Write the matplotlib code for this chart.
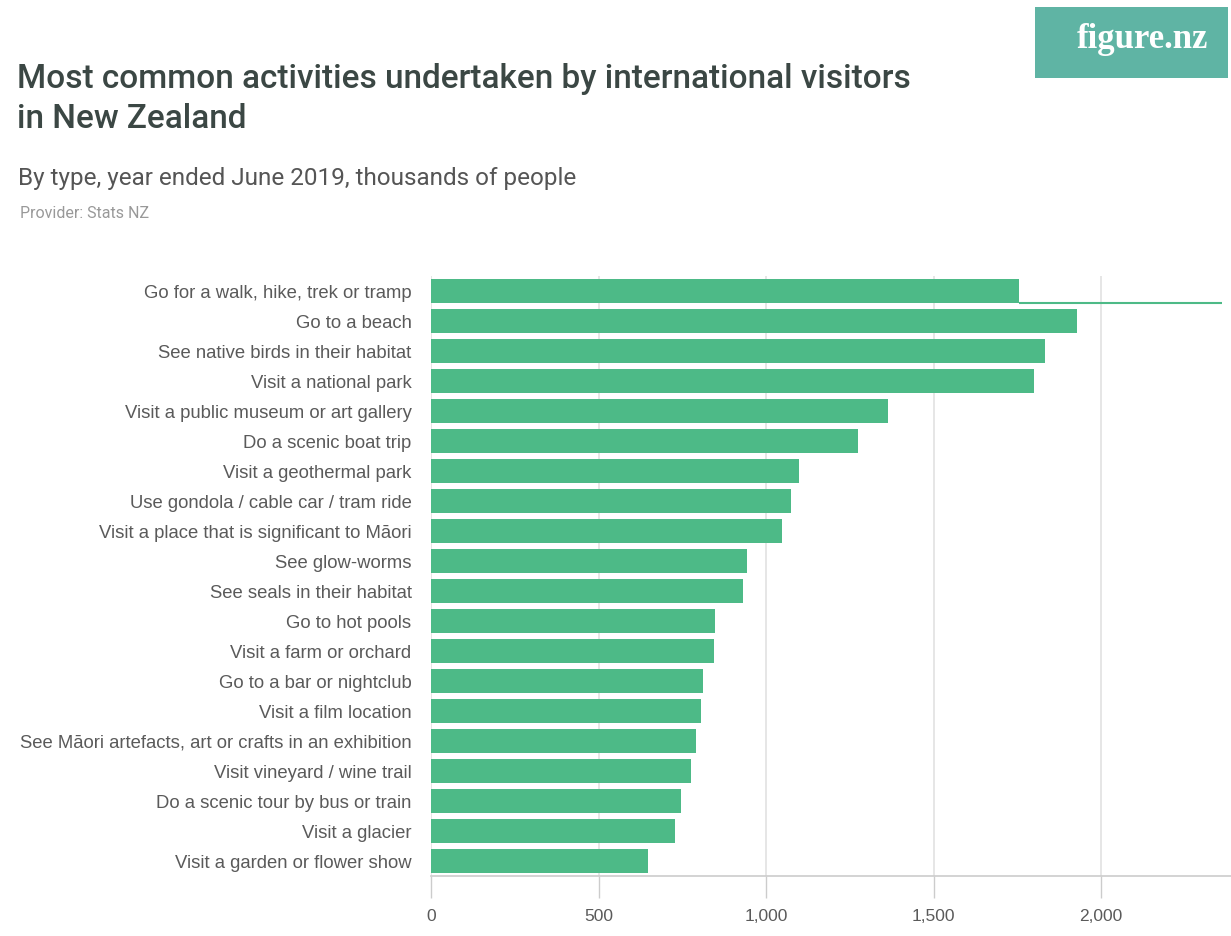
import matplotlib
matplotlib.use("Agg")
import matplotlib.pyplot as plt
from matplotlib.patches import Rectangle

categories = [
    "Go for a walk, hike, trek or tramp",
    "Go to a beach",
    "See native birds in their habitat",
    "Visit a national park",
    "Visit a public museum or art gallery",
    "Do a scenic boat trip",
    "Visit a geothermal park",
    "Use gondola / cable car / tram ride",
    "Visit a place that is significant to Māori",
    "See glow-worms",
    "See seals in their habitat",
    "Go to hot pools",
    "Visit a farm or orchard",
    "Go to a bar or nightclub",
    "Visit a film location",
    "See Māori artefacts, art or crafts in an exhibition",
    "Visit vineyard / wine trail",
    "Do a scenic tour by bus or train",
    "Visit a glacier",
    "Visit a garden or flower show",
]
values = [1755, 1928, 1833, 1800, 1364, 1275, 1099, 1075, 1048, 943,
          931, 848, 845, 812, 806, 791, 776, 746, 728, 648]
first_line_end = 2361
xticks = [0, 500, 1000, 1500, 2000]
xticklabels = ["0", "500", "1,000", "1,500", "2,000"]

W, H = 1231, 936
fig = plt.figure(figsize=(W / 100, H / 100), dpi=100)
fig.patch.set_facecolor("white")

label_font = ["Liberation Sans", "DejaVu Sans"]
head_font = ["Roboto", "DejaVu Sans"]
bar_color = "#4dba87"

left, right = 431, 1231
top, bottom = 276, 876
ax = fig.add_axes([left / W, 1 - bottom / H, (right - left) / W, (bottom - top) / H])

y = list(range(len(categories)))
ax.barh(y, values, height=0.82, color=bar_color, zorder=3)
ax.hlines(0 + 0.41, values[0], first_line_end, color=bar_color, linewidth=1.5, zorder=3)
ax.set_ylim(len(categories) - 0.5, -0.5)
ax.set_xlim(0, 2388)

ax.set_yticks(y)
ax.set_yticklabels(categories, fontsize=13.3, color="#5a5a5a", family=label_font)
ax.tick_params(axis="y", length=0, pad=14)

ax.set_xticks(xticks)
ax.set_xticklabels(xticklabels, fontsize=12.5, color="#5a5a5a", family=label_font)
ax.tick_params(axis="x", length=16, width=1, color="#cccccc", pad=8, direction="out")

ax.grid(axis="x", color="#e2e2e2", linewidth=1.2, zorder=0)
for s in ["top", "right", "left"]:
    ax.spines[s].set_visible(False)
ax.spines["bottom"].set_color("#cccccc")
ax.spines["bottom"].set_linewidth(1.2)

fig.text(17 / W, 1 - 79 / H, "Most common activities undertaken by international visitors",
         fontsize=24, color="#3b4744", fontweight="medium", va="center", ha="left", family=head_font)
fig.text(17 / W, 1 - 119 / H, "in New Zealand",
         fontsize=24, color="#3b4744", fontweight="medium", va="center", ha="left", family=head_font)
fig.text(18 / W, 1 - 178 / H, "By type, year ended June 2019, thousands of people",
         fontsize=17.5, color="#555555", va="center", ha="left", family=head_font)
fig.text(20 / W, 1 - 214 / H, "Provider: Stats NZ",
         fontsize=11.5, color="#999999", va="center", ha="left", family=head_font)

# logo box
fig.patches.append(Rectangle((1035 / W, 1 - 78 / H), (1228 - 1035) / W, 71 / H,
                             transform=fig.transFigure, facecolor="#5fb4a4", edgecolor="none"))
fig.text(1142 / W, 1 - 40 / H, "figure.nz", fontsize=25, color="white", fontweight="bold",
         va="center", ha="center", family=["Liberation Serif", "DejaVu Serif"])

fig.savefig("out.png", dpi=100, facecolor="white")
